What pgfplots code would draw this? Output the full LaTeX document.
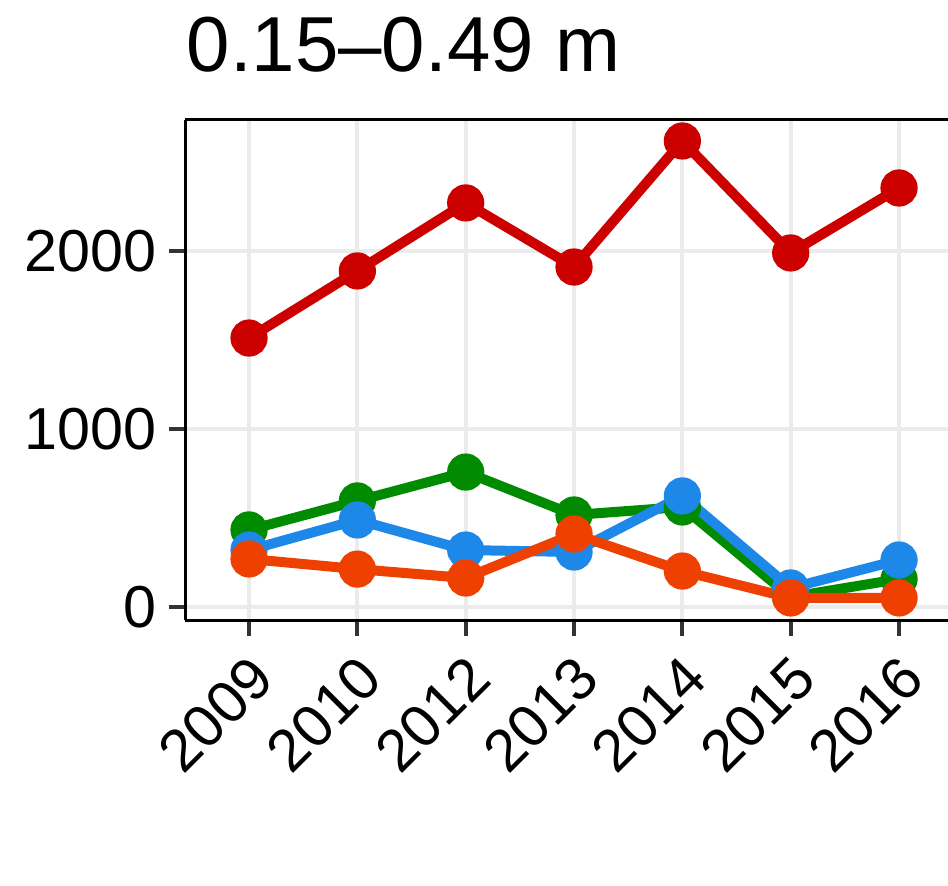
\documentclass[border=0pt]{standalone}
\usepackage{fontspec}
\setmainfont{Liberation Sans}
\usepackage{pgfplots}
\pgfplotsset{compat=1.18}
\definecolor{cred}{HTML}{CD0000}
\definecolor{cgreen}{HTML}{008B00}
\definecolor{cblue}{HTML}{1E88E8}
\definecolor{corange}{HTML}{EE4000}
\definecolor{gridc}{HTML}{EBEBEB}
\definecolor{tickc}{HTML}{333333}
\begin{document}
\begin{tikzpicture}
\path[use as bounding box] (0,0) rectangle (237pt,221.25pt);
\node[anchor=base west, font=\fontsize{19.5pt}{22pt}\selectfont, inner sep=0pt] at (46.5pt,203.25pt) {0.15--0.49 m};
\begin{axis}[
  at={(46.25pt,66.25pt)}, anchor=south west,
  scale only axis, width=190.75pt, height=125pt,
  xmin=-0.591, xmax=6.452, ymin=-73, ymax=2736,
  axis x line*=box, axis y line*=left,
  axis line style={-, black, line width=0.75pt},
  xtick={0,1,2,3,4,5,6},
  xticklabels={2009,2010,2012,2013,2014,2015,2016},
  ytick={0,1000,2000},
  /pgf/number format/assume math mode=true,
  scaled y ticks=false,
  yticklabel style={/pgf/number format/set thousands separator={}},
  tick label style={font=\fontsize{14.8pt}{16pt}\selectfont, text=black},
  xticklabel style={anchor=north east, inner sep=1pt, xshift=-0.4pt, yshift=-2.6pt, rotate=45},
  yticklabel style={inner sep=1pt, xshift=-2pt},
  tick align=outside, tick pos=left,
  major tick length=4pt,
  every tick/.style={tickc, line width=1pt},
  grid=major,
  major grid style={gridc, line width=1pt},
  clip=false,
]
\addplot[cred, line width=2.5pt, mark=*, mark size=3.4pt, mark options={solid}] coordinates {
(0,1511) (1,1888) (2,2270) (3,1910) (4,2618) (5,1989) (6,2354)};
\addplot[cgreen, line width=2.5pt, mark=*, mark size=3.4pt] coordinates {
(0,433) (1,596) (2,758) (3,517) (4,562) (5,56) (6,157)};
\addplot[cblue, line width=2.5pt, mark=*, mark size=3.4pt] coordinates {
(0,320) (1,489) (2,320) (3,309) (4,624) (5,107) (6,264)};
\addplot[corange, line width=2.5pt, mark=*, mark size=3.4pt] coordinates {
(0,270) (1,213) (2,163) (3,410) (4,202) (5,51) (6,51)};
\end{axis}
\end{tikzpicture}
\end{document}
